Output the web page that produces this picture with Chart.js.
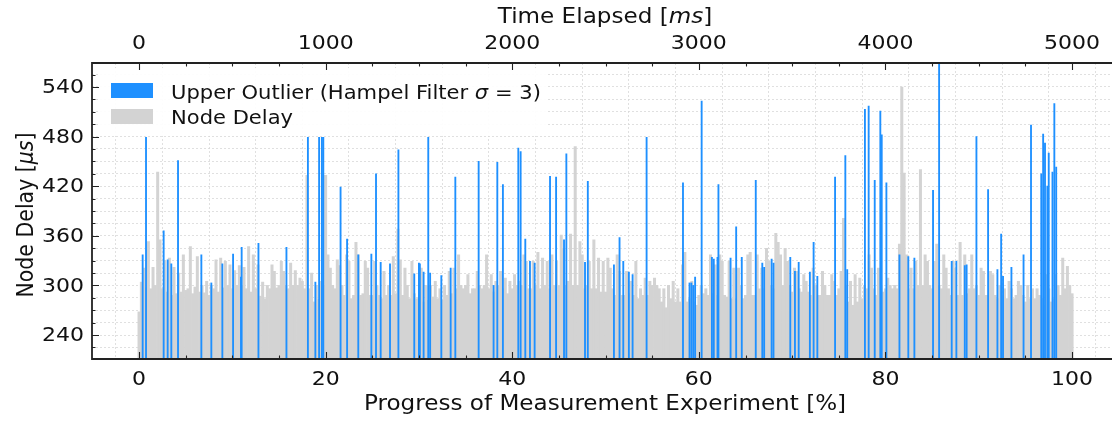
<!DOCTYPE html>
<html>
<head>
<meta charset="utf-8">
<script src="https://cdn.jsdelivr.net/npm/chart.js@4.4.1/dist/chart.umd.min.js"></script>
<style>
  html, body { margin: 0; padding: 0; background: #fff; }
  #wrap { width: 1112px; height: 422px; position: relative; }
</style>
</head>
<body>
<div id="wrap"><canvas id="chart"></canvas></div>
<script>
// node delay [us], one sample every 0.25 % of the experiment (0 .. 100 %)
const progressStep = 0.25;
const nodeDelay = [
  268, 304, 321, 297, 353, 296, 322, 300, 437, 355, 296, 330, 292, 333, 288, 322, 290, 315, 292, 337,
  294, 296, 347, 290, 298, 335, 292, 300, 291, 305, 288, 300, 296, 331, 292, 333, 297, 329, 300, 325,
  296, 318, 300, 324, 300, 322, 296, 347, 292, 337, 296, 325, 287, 304, 284, 300, 296, 325, 317, 297,
  300, 329, 317, 300, 296, 327, 300, 318, 300, 309, 305, 296, 433, 296, 315, 280, 300, 283, 305, 300,
  433, 337, 321, 300, 296, 331, 324, 300, 288, 337, 329, 284, 288, 352, 337, 288, 290, 329, 321, 288,
  288, 329, 300, 288, 284, 317, 288, 300, 288, 335, 290, 368, 331, 288, 321, 300, 284, 329, 290, 284,
  284, 321, 280, 300, 282, 300, 286, 305, 284, 296, 282, 300, 288, 317, 290, 321, 296, 337, 300, 296,
  300, 313, 290, 296, 296, 317, 300, 296, 300, 337, 296, 313, 292, 305, 300, 317, 296, 309, 290, 305,
  296, 313, 300, 305, 300, 337, 329, 296, 296, 329, 300, 340, 296, 333, 300, 329, 296, 337, 300, 329,
  300, 361, 345, 300, 305, 362, 300, 468, 300, 353, 337, 296, 300, 329, 296, 355, 296, 333, 292, 329,
  292, 333, 321, 296, 288, 337, 317, 288, 288, 317, 290, 305, 288, 329, 284, 296, 288, 309, 288, 305,
  300, 309, 300, 296, 280, 296, 273, 300, 284, 305, 280, 296, 280, 325, 340, 280, 284, 305, 280, 276,
  288, 300, 290, 296, 288, 337, 290, 325, 288, 337, 329, 288, 286, 329, 284, 321, 284, 321, 300, 284,
  288, 337, 340, 288, 288, 337, 296, 321, 296, 345, 329, 300, 296, 363, 352, 337, 300, 345, 329, 300,
  292, 321, 317, 296, 292, 313, 305, 292, 288, 321, 300, 288, 288, 317, 300, 288, 288, 313, 305, 288,
  296, 317, 381, 300, 280, 305, 276, 313, 280, 309, 284, 300, 296, 337, 321, 296, 288, 321, 300, 292,
  296, 309, 300, 296, 300, 296, 350, 540, 436, 337, 296, 321, 296, 329, 300, 440, 300, 337, 329, 300,
  296, 329, 350, 300, 296, 337, 321, 296, 288, 329, 321, 288, 352, 288, 337, 290, 296, 337, 296, 300,
  288, 321, 317, 288, 288, 317, 313, 288, 284, 300, 286, 296, 284, 305, 296, 284, 288, 305, 300, 288,
  280, 300, 284, 296, 284, 296, 288, 284, 276, 313, 296, 280, 284, 313, 300, 288, 333, 296, 323, 300,
  290
];

// upper outliers (Hampel filter, sigma = 3)
const outlierProgress = [
  0.39, 0.75, 2.64, 3.07, 3.46, 4.18, 6.68, 7.75, 8.93, 10.08,
  10.93, 11.0, 12.8, 15.8, 18.1, 18.9, 19.3, 19.6, 19.75, 21.6,
  22.3, 23.5, 24.9, 25.4, 25.9, 26.9, 27.8, 29.5, 30.0, 30.1,
  30.5, 31.0, 31.2, 32.4, 33.4, 33.9, 36.4, 38.0, 38.4, 39.0,
  40.65, 40.9, 41.4, 41.9, 42.4, 44.05, 44.7, 45.55, 45.8, 47.8,
  48.1, 50.9, 51.5, 51.9, 52.5, 52.9, 54.4, 58.3, 59.0, 59.2,
  59.4, 59.6, 60.3, 61.4, 61.6, 62.0, 62.1, 63.4, 64.0, 64.6,
  66.1, 66.8, 67.0, 67.8, 68.0, 69.8, 70.3, 70.7, 71.9, 72.3,
  72.7, 74.6, 75.7, 75.9, 77.8, 78.2, 78.85, 79.45, 79.6, 80.1,
  81.5, 82.45, 83.1, 85.1, 85.75, 87.1, 87.6, 88.5, 88.7, 89.75,
  91.0, 92.0, 92.4, 92.6, 93.5, 94.8, 95.6, 96.7, 96.9, 97.1,
  97.35, 97.5, 97.9, 98.1, 98.3
];
const outlierDelay = [
  337, 479, 366, 331, 326, 451, 337, 303, 326, 338,
  310, 346, 351, 346, 479, 304, 479, 479, 479, 419,
  356, 337, 338, 435, 328, 326, 464, 314, 327, 326,
  316, 479, 315, 312, 321, 431, 450, 300, 449, 422,
  466, 462, 356, 329, 327, 432, 431, 355, 459, 328,
  426, 325, 358, 329, 316, 313, 479, 424, 303, 303,
  300, 310, 523, 334, 332, 334, 422, 333, 371, 334,
  427, 327, 322, 332, 327, 334, 317, 328, 316, 352,
  311, 431, 457, 319, 513, 517, 427, 511, 482, 424,
  337, 335, 333, 415, 575, 329, 329, 324, 325, 480,
  416, 319, 362, 311, 322, 337, 494, 435, 483, 472,
  420, 460, 437, 520, 443
];

const progressTicks = [0, 20, 40, 60, 80, 100];
const timeTicks = [0, 1000, 2000, 3000, 4000, 5000];
const delayTicks = [240, 300, 360, 420, 480, 540];

const msPerPercent = 50;
const xMin = -5.04, xMax = 104.28;
const yMin = 211, yMax = 569;

const FONT = "'DejaVu Sans', sans-serif";
const STRETCH = 1.1;   // the reference text is a little wider than tall
const INK = '#111';

function minorSteps(from, to, step) {
  const out = [];
  for (let v = from; v <= to + 1e-9; v += step) out.push(v);
  return out;
}
const progressMinor = minorSteps(0, 100, 5);
const timeMinor = minorSteps(0, 5000, 250);
const delayMinor = minorSteps(225, 555, 15);

function drawParts(ctx, parts, x, y, size, align, sx) {
  const fonts = parts.map(p => (p[1] ? 'italic ' : '') + size + 'px ' + FONT);
  const widths = parts.map((p, i) => { ctx.font = fonts[i]; return ctx.measureText(p[0]).width; });
  const total = widths.reduce((a, b) => a + b, 0);
  ctx.save();
  ctx.translate(x, y);
  ctx.scale(sx, 1);
  let cx = align === 'center' ? -total / 2 : align === 'right' ? -total : 0;
  ctx.textAlign = 'left';
  parts.forEach((p, i) => {
    ctx.font = fonts[i];
    ctx.fillText(p[0], cx, 0);
    cx += widths[i];
  });
  ctx.restore();
}

const framePlugin = {
  id: 'frame',
  afterDatasetsDraw(chart) {
    const { ctx, chartArea: a } = chart;
    // legend box
    ctx.save();
    ctx.fillStyle = 'rgba(255,255,255,0.95)';
    ctx.beginPath();
    ctx.roundRect(a.left + 8, a.top + 5, 448, 68, 4);
    ctx.fill();
    const ds = chart.data.datasets;
    ctx.fillStyle = ds[0].backgroundColor;
    ctx.fillRect(a.left + 19, a.top + 20, 42, 15);
    ctx.fillStyle = ds[1].backgroundColor;
    ctx.fillRect(a.left + 19, a.top + 46, 42, 15);
    ctx.fillStyle = INK;
    ctx.textBaseline = 'alphabetic';
    drawParts(ctx, [['Upper Outlier (Hampel Filter ', false], ['σ', true], [' = 3)', false]],
      a.left + 79, a.top + 35.5, 19.5, 'left', 1.08);
    drawParts(ctx, [['Node Delay', false]], a.left + 79, a.top + 60.5, 19.5, 'left', 1.08);
    ctx.restore();
  },
  afterDraw(chart) {
    const { ctx, chartArea: a, scales } = chart;
    ctx.save();
    ctx.strokeStyle = '#222';
    ctx.lineWidth = 1.1;
    ctx.beginPath();
    scales.y.ticks.forEach(t => {
      const yy = Math.round(scales.y.getPixelForValue(t.value)) + 0.5;
      const len = delayTicks.includes(t.value) ? 7 : 3.5;
      ctx.moveTo(a.left, yy); ctx.lineTo(a.left + len, yy);
    });
    scales.x.ticks.forEach(t => {
      const xx = Math.round(scales.x.getPixelForValue(t.value)) + 0.5;
      const len = progressTicks.includes(t.value) ? 7 : 3.5;
      ctx.moveTo(xx, a.bottom); ctx.lineTo(xx, a.bottom - len);
    });
    scales.x2.ticks.forEach(t => {
      const xx = Math.round(scales.x2.getPixelForValue(t.value)) + 0.5;
      const len = timeTicks.includes(t.value) ? 7 : 3.5;
      ctx.moveTo(xx, a.top); ctx.lineTo(xx, a.top + len);
    });
    ctx.stroke();

    // spines
    ctx.lineWidth = 1.8;
    ctx.beginPath();
    ctx.moveTo(a.right + 2, a.top); ctx.lineTo(a.left, a.top);
    ctx.lineTo(a.left, a.bottom); ctx.lineTo(a.right + 2, a.bottom);
    ctx.stroke();

    // tick labels
    ctx.fillStyle = INK;
    ctx.textBaseline = 'middle';
    delayTicks.forEach(v => {
      drawParts(ctx, [[String(v), false]], a.left - 8, scales.y.getPixelForValue(v) + 1, 20, 'right', STRETCH);
    });
    progressTicks.forEach(v => {
      drawParts(ctx, [[String(v), false]], scales.x.getPixelForValue(v), a.bottom + 21, 20, 'center', STRETCH);
    });
    timeTicks.forEach(v => {
      drawParts(ctx, [[String(v), false]], scales.x2.getPixelForValue(v), a.top - 19, 20, 'center', STRETCH);
    });

    // axis titles
    drawParts(ctx, [['Progress of Measurement Experiment [%]', false]], 605, a.bottom + 46, 21, 'center', STRETCH);
    drawParts(ctx, [['Time Elapsed [', false], ['ms', true], [']', false]], 605, a.top - 45, 21, 'center', STRETCH);
    ctx.save();
    ctx.translate(27, 215);
    ctx.rotate(-Math.PI / 2);
    ctx.scale(1, STRETCH);
    drawParts(ctx, [['Node Delay [', false], ['μs', true], [']', false]], 0, 0, 20.5, 'center', 1);
    ctx.restore();
    ctx.restore();
  }
};

const gridColor = '#d9d9d9';

new Chart(document.getElementById('chart'), {
  type: 'bar',
  data: {
    datasets: [
      {
        label: 'Upper Outlier (Hampel Filter σ = 3)',
        data: outlierProgress.map((p, i) => ({ x: p, y: outlierDelay[i] })),
        backgroundColor: '#1e90ff',
        barThickness: 1.2,
        grouped: false
      },
      {
        label: 'Node Delay',
        data: nodeDelay.map((v, i) => ({ x: i * progressStep, y: v })),
        backgroundColor: '#d3d3d3',
        barThickness: 2.35,
        grouped: false
      }
    ]
  },
  options: {
    responsive: true,
    maintainAspectRatio: false,
    animation: false,
    layout: { padding: 0 },
    plugins: { legend: { display: false }, tooltip: { enabled: false } },
    scales: {
      x: {
        type: 'linear', position: 'bottom', min: xMin, max: xMax, offset: false,
        afterBuildTicks: s => { s.ticks = progressMinor.map(v => ({ value: v })); },
        afterFit: s => { s.height = 63; },
        ticks: { display: false },
        grid: { color: gridColor, lineWidth: 0.8, drawTicks: false },
        border: { display: false, dash: [2, 2] }
      },
      x2: {
        type: 'linear', position: 'top',
        min: xMin * msPerPercent, max: xMax * msPerPercent, offset: false,
        afterBuildTicks: s => { s.ticks = timeMinor.map(v => ({ value: v })); },
        afterFit: s => { s.height = 63; },
        ticks: { display: false },
        grid: { display: false, drawTicks: false },
        border: { display: false }
      },
      y: {
        type: 'linear', position: 'left', min: yMin, max: yMax,
        afterBuildTicks: s => { s.ticks = delayMinor.map(v => ({ value: v })); },
        afterFit: s => { s.width = 92; },
        ticks: { display: false },
        grid: { color: gridColor, lineWidth: 0.8, drawTicks: false },
        border: { display: false, dash: [2, 2] }
      }
    }
  },
  plugins: [framePlugin]
});
</script>
</body>
</html>
